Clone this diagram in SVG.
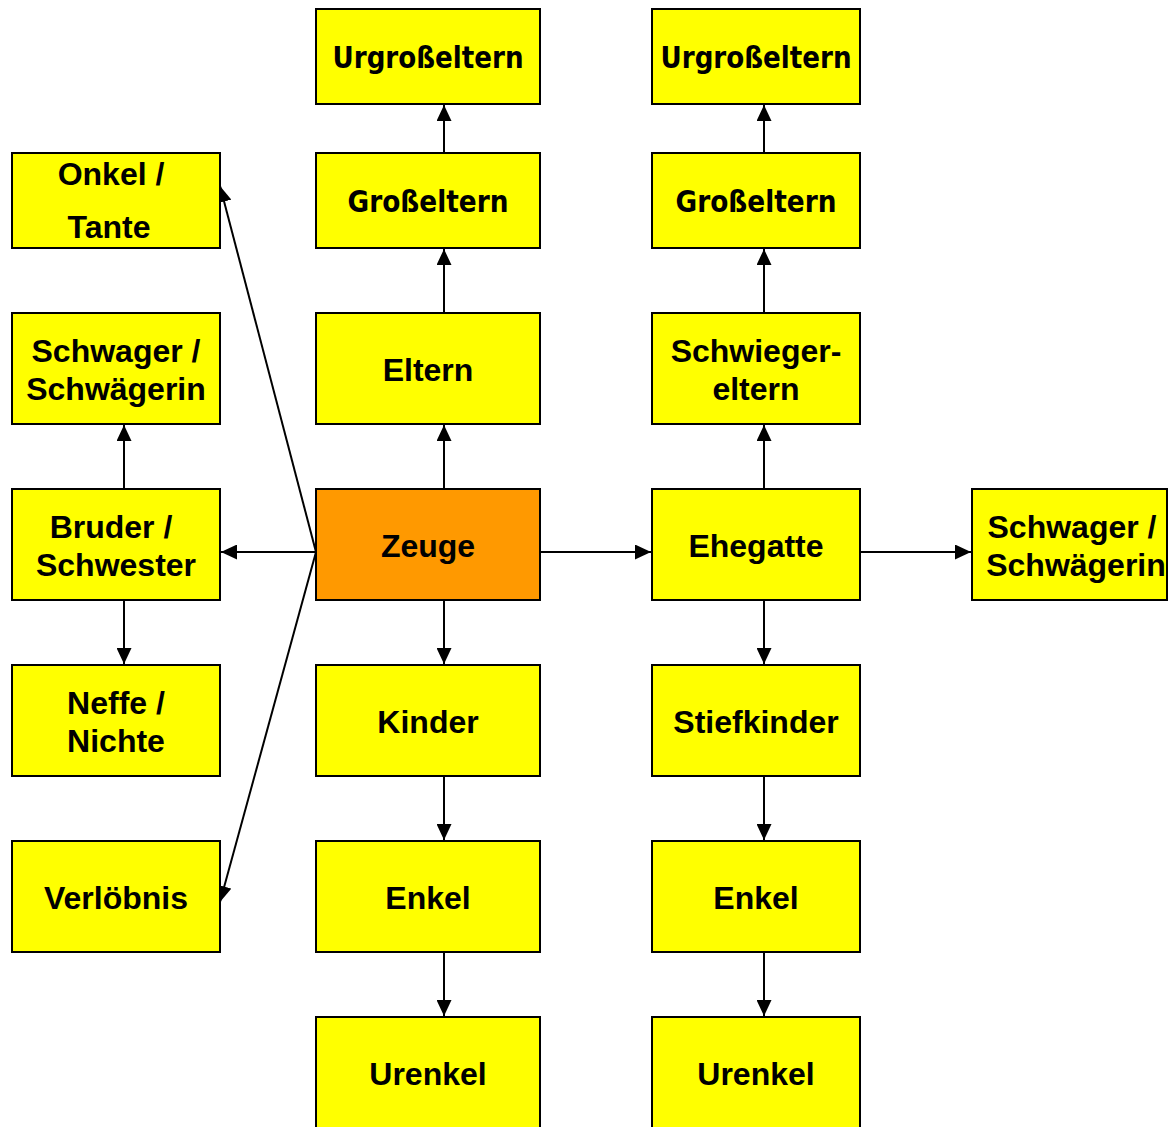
<svg xmlns="http://www.w3.org/2000/svg" width="1169" height="1127" viewBox="0 0 1169 1127">
<style>
.b{fill:#FFFF00;stroke:#000;stroke-width:2}
.z{fill:#FF9900;stroke:#000;stroke-width:2}
.t{font-family:"Liberation Sans",Arial,sans-serif;font-weight:bold;font-size:32px;text-anchor:middle;fill:#000}
.d{font-family:"DejaVu Sans",Verdana,sans-serif;font-weight:bold;font-size:31px;text-anchor:middle;fill:#000}
.c{stroke:#000;stroke-width:2;fill:none;marker-end:url(#ah)}
</style>
<defs>
<marker id="ah" markerUnits="userSpaceOnUse" markerWidth="17" markerHeight="15" refX="16" refY="7.5" orient="auto">
<path d="M0,0 L16,7.5 L0,15 Z" fill="#000"/>
</marker>
</defs>
<rect width="1169" height="1127" fill="#fff"/>
<g id="connectors">
<line class="c" x1="444" y1="489" x2="444" y2="425"/>
<line class="c" x1="444" y1="313" x2="444" y2="249"/>
<line class="c" x1="444" y1="153" x2="444" y2="105"/>
<line class="c" x1="444" y1="600" x2="444" y2="664"/>
<line class="c" x1="444" y1="776" x2="444" y2="840"/>
<line class="c" x1="444" y1="952" x2="444" y2="1016"/>
<line class="c" x1="764" y1="489" x2="764" y2="425"/>
<line class="c" x1="764" y1="313" x2="764" y2="249"/>
<line class="c" x1="764" y1="153" x2="764" y2="105"/>
<line class="c" x1="764" y1="600" x2="764" y2="664"/>
<line class="c" x1="764" y1="776" x2="764" y2="840"/>
<line class="c" x1="764" y1="952" x2="764" y2="1016"/>
<line class="c" x1="540" y1="552" x2="651" y2="552"/>
<line class="c" x1="860" y1="552" x2="971" y2="552"/>
<line class="c" x1="316" y1="552" x2="221" y2="552"/>
<line class="c" x1="124" y1="489" x2="124" y2="425"/>
<line class="c" x1="124" y1="600" x2="124" y2="664"/>
<line class="c" x1="316" y1="552" x2="220" y2="186"/>
<line class="c" x1="316" y1="552" x2="220" y2="902"/>
</g>
<g id="n-urgross1"><rect class="b" x="316" y="9" width="224" height="95"/><text class="d" x="428" y="68" textLength="191" lengthAdjust="spacingAndGlyphs">Urgroßeltern</text></g>
<g id="n-urgross2"><rect class="b" x="652" y="9" width="208" height="95"/><text class="d" x="756" y="68" textLength="191" lengthAdjust="spacingAndGlyphs">Urgroßeltern</text></g>
<g id="n-gross1"><rect class="b" x="316" y="153" width="224" height="95"/><text class="d" x="428" y="212" textLength="161" lengthAdjust="spacingAndGlyphs">Großeltern</text></g>
<g id="n-gross2"><rect class="b" x="652" y="153" width="208" height="95"/><text class="d" x="756" y="212" textLength="161" lengthAdjust="spacingAndGlyphs">Großeltern</text></g>
<g id="n-onkel"><rect class="b" x="12" y="153" width="208" height="95"/><text class="t" x="111" y="185">Onkel /</text><text class="t" x="109" y="238">Tante</text></g>
<g id="n-schwager1"><rect class="b" x="12" y="313" width="208" height="111"/><text class="t" x="116" y="362">Schwager /</text><text class="t" x="116" y="400">Schwägerin</text></g>
<g id="n-eltern"><rect class="b" x="316" y="313" width="224" height="111"/><text class="t" x="428" y="381">Eltern</text></g>
<g id="n-schwiegereltern"><rect class="b" x="652" y="313" width="208" height="111"/><text class="t" x="756" y="362">Schwieger-</text><text class="t" x="756" y="400">eltern</text></g>
<g id="n-bruder"><rect class="b" x="12" y="489" width="208" height="111"/><text class="t" x="111" y="538">Bruder /</text><text class="t" x="116" y="576">Schwester</text></g>
<g id="n-zeuge"><rect class="z" x="316" y="489" width="224" height="111"/><text class="t" x="428" y="557">Zeuge</text></g>
<g id="n-ehegatte"><rect class="b" x="652" y="489" width="208" height="111"/><text class="t" x="756" y="557">Ehegatte</text></g>
<g id="n-schwager2"><rect class="b" x="972" y="489" width="195" height="111"/><text class="t" x="1072" y="538">Schwager /</text><text class="t" x="1076" y="576">Schwägerin</text></g>
<g id="n-neffe"><rect class="b" x="12" y="665" width="208" height="111"/><text class="t" x="116" y="714">Neffe /</text><text class="t" x="116" y="752">Nichte</text></g>
<g id="n-kinder"><rect class="b" x="316" y="665" width="224" height="111"/><text class="t" x="428" y="733">Kinder</text></g>
<g id="n-stiefkinder"><rect class="b" x="652" y="665" width="208" height="111"/><text class="t" x="756" y="733">Stiefkinder</text></g>
<g id="n-verloebnis"><rect class="b" x="12" y="841" width="208" height="111"/><text class="t" x="116" y="909">Verlöbnis</text></g>
<g id="n-enkel1"><rect class="b" x="316" y="841" width="224" height="111"/><text class="t" x="428" y="909">Enkel</text></g>
<g id="n-enkel2"><rect class="b" x="652" y="841" width="208" height="111"/><text class="t" x="756" y="909">Enkel</text></g>
<g id="n-urenkel1"><rect class="b" x="316" y="1017" width="224" height="130"/><text class="t" x="428" y="1085">Urenkel</text></g>
<g id="n-urenkel2"><rect class="b" x="652" y="1017" width="208" height="130"/><text class="t" x="756" y="1085">Urenkel</text></g>
</svg>
